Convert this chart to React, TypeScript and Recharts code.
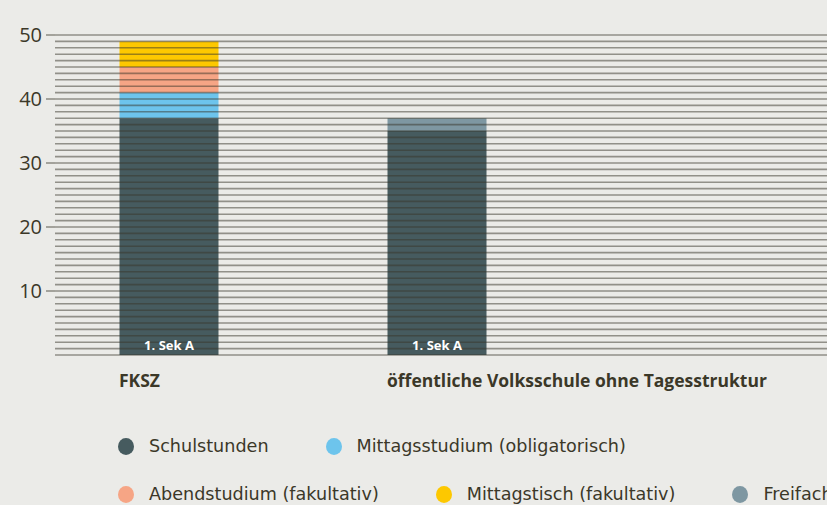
import { BarChart, Bar, XAxis, YAxis, ReferenceLine, LabelList } from 'recharts';

const categories = ['FKSZ', 'öffentliche Volksschule ohne Tagesstruktur'];
const classLabels = ['1. Sek A', '1. Sek A'];

const schulstunden = [37, 35];
const mittagsstudium = [4, 0];
const abendstudium = [4, 0];
const mittagstisch = [4, 0];
const freifach = [0, 2];

const yTicks = [10, 20, 30, 40, 50];
const gridLevels = Array.from({ length: 51 }, (_, i) => i);

const series = [
  { key: 'Schulstunden', values: schulstunden, color: '#465b5f' },
  { key: 'Mittagsstudium (obligatorisch)', values: mittagsstudium, color: '#6dc4ec' },
  { key: 'Abendstudium (fakultativ)', values: abendstudium, color: '#f6a585' },
  { key: 'Mittagstisch (fakultativ)', values: mittagstisch, color: '#fdc800' },
  { key: 'Freifach', values: freifach, color: '#7e97a2' },
];

// legend is laid out in two rows
const legendRows = [series.slice(0, 2), series.slice(2)];

const data = categories.map((name, i) => {
  const row: Record<string, any> = { x: i, name, klasse: classLabels[i] };
  series.forEach((s) => (row[s.key] = s.values[i]));
  return row;
});

const textColor = '#3b3828';
const lineColor = '#38352a';
const BAR_SIZE = 99;

const CategoryTick = ({ x, y, payload }: any) => (
  <text
    x={x - BAR_SIZE / 2}
    y={y}
    dy={32}
    textAnchor="start"
    fill={textColor}
    fontSize={17.5}
    fontWeight={700}
    fontFamily="'Open Sans', sans-serif"
  >
    {categories[payload.value]}
  </text>
);

export default function App() {
  return (
    <div
      style={{
        position: 'absolute',
        left: 0,
        top: 0,
        width: 827,
        height: 505,
        background: '#ebebe8',
        overflow: 'hidden',
      }}
    >
      <BarChart
        width={827}
        height={400}
        data={data}
        margin={{ top: 35, right: 0, bottom: 0, left: 0 }}
      >
        <XAxis
          type="number"
          dataKey="x"
          domain={[-0.4235, 2.457]}
          allowDataOverflow
          ticks={[0, 1]}
          axisLine={false}
          tickLine={false}
          tickSize={0}
          tickMargin={0}
          height={45}
          tick={<CategoryTick />}
        />
        <YAxis
          type="number"
          domain={[0, 50]}
          ticks={yTicks}
          width={55}
          axisLine={false}
          tickSize={9}
          tickMargin={4}
          tickLine={{ stroke: lineColor, strokeOpacity: 0.5, strokeWidth: 1.6 }}
          tick={{ fill: textColor, fontSize: 20, fontFamily: "'Open Sans', sans-serif" }}
        />
        {series.map((s, idx) => (
          <Bar
            key={s.key}
            dataKey={s.key}
            stackId="a"
            fill={s.color}
            barSize={BAR_SIZE}
            isAnimationActive={false}
          >
            {idx === 0 && (
              <LabelList
                dataKey="klasse"
                position="insideBottom"
                offset={5}
                fill="#ffffff"
                fontSize={13}
                fontWeight={700}
                fontFamily="'Open Sans', sans-serif"
              />
            )}
          </Bar>
        ))}
        {gridLevels.map((v) => (
          <ReferenceLine
            key={v}
            y={v}
            stroke={lineColor}
            strokeOpacity={0.5}
            strokeWidth={1.6}
          />
        ))}
      </BarChart>
      {legendRows.map((row, r) => (
        <div
          key={r}
          style={{
            position: 'absolute',
            left: 118,
            top: 437 + r * 48,
            display: 'flex',
            columnGap: 57,
            fontFamily: "'DejaVu Sans', sans-serif",
            fontSize: 17.6,
            color: textColor,
          }}
        >
          {row.map((s) => (
            <div key={s.key} style={{ display: 'flex', alignItems: 'center', height: 18, whiteSpace: 'nowrap' }}>
              <span
                style={{
                  display: 'inline-block',
                  width: 16,
                  height: 17,
                  borderRadius: '50%',
                  background: s.color,
                  marginRight: 15,
                }}
              />
              {s.key}
            </div>
          ))}
        </div>
      ))}
    </div>
  );
}
